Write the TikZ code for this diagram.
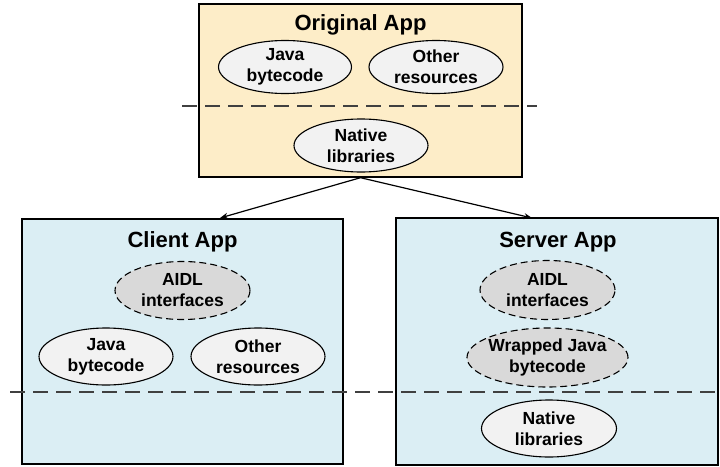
\documentclass[tikz,border=0pt]{standalone}
\usepackage{fontspec}
\setmainfont{Liberation Sans}
\usetikzlibrary{shapes.geometric,arrows.meta}
\definecolor{origfill}{HTML}{FDEDC8}
\definecolor{appfill}{HTML}{DBEEF4}
\definecolor{ellfill}{HTML}{F2F2F2}
\definecolor{dashfill}{HTML}{D9D9D9}
\definecolor{sepcol}{HTML}{404040}
\tikzset{
  appbox/.style={draw=black, line width=1.4pt, minimum width=#1, inner sep=0pt},
  apptitle/.style={anchor=base, inner sep=0pt, font=\fontsize{22}{26}\selectfont\bfseries},
  part/.style={ellipse, draw=black, line width=1.1pt, fill=ellfill, inner xsep=0pt, inner ysep=-2pt,
    align=center, font=\fontsize{17.5}{21}\selectfont\bfseries},
  newpart/.style={part, fill=dashfill, dash pattern=on 7pt off 4pt},
  sepline/.style={draw=sepcol, line width=1.6pt, dash pattern=on 15pt off 8pt},
  link/.style={draw=black, line width=1.2pt, -{Stealth[length=8pt,width=6pt]}}
}
\begin{document}
\begin{tikzpicture}[x=1pt,y=-1pt]
\useasboundingbox (0,0) rectangle (720,466);
% boxes
\node[appbox=323pt, minimum height=173pt, fill=origfill] (orig) at (360.5,90.5) {};
\node[appbox=321pt, minimum height=245pt, fill=appfill] (client) at (182.5,341.5) {};
\node[appbox=322pt, minimum height=247pt, fill=appfill] (server) at (557,341.5) {};
% titles
\node[apptitle] (origt) at (360.5,30) {Original App};
\node[apptitle] (clientt) at (182.5,247) {Client App};
\node[apptitle] (servert) at (558,247) {Server App};
% separators
\coordinate (s1a) at (182,106);
\coordinate (s1b) at (537,106);
\coordinate (s2a) at (10,392);
\coordinate (s2b) at (719,392);
\draw[sepline] (s1a) -- (s1b);
\draw[sepline] (s2a) -- (s2b);
% original parts
\node[part, minimum width=133pt, minimum height=53pt] (ojava) at (285,67) {Java\\bytecode};
\node[part, minimum width=134pt, minimum height=53pt] (oother) at (436,67) {Other\\resources};
\node[part, minimum width=134pt, minimum height=53pt] (onative) at (361,145.5) {Native\\libraries};
% client parts
\node[newpart, minimum width=135pt, minimum height=58pt] (caidl) at (182.5,290.5) {AIDL\\interfaces};
\node[part, minimum width=134pt, minimum height=57pt] (cjava) at (106,356.5) {Java\\bytecode};
\node[part, minimum width=134pt, minimum height=57pt] (cother) at (258,356.5) {Other\\resources};
% server parts
\node[newpart, minimum width=135pt, minimum height=59pt] (saidl) at (547.5,290) {AIDL\\interfaces};
\node[newpart, inner xsep=-15pt, minimum width=161pt, minimum height=59pt] (swrap) at (547.5,357.5) {Wrapped Java\\bytecode};
\node[part, minimum width=135pt, minimum height=57pt] (snative) at (549,428.5) {Native\\libraries};
% connectors
\coordinate (ct) at (220,218);
\coordinate (st) at (532,218);
\draw[link] (orig.south) -- (ct);
\draw[link] (orig.south) -- (st);
\end{tikzpicture}
\end{document}
